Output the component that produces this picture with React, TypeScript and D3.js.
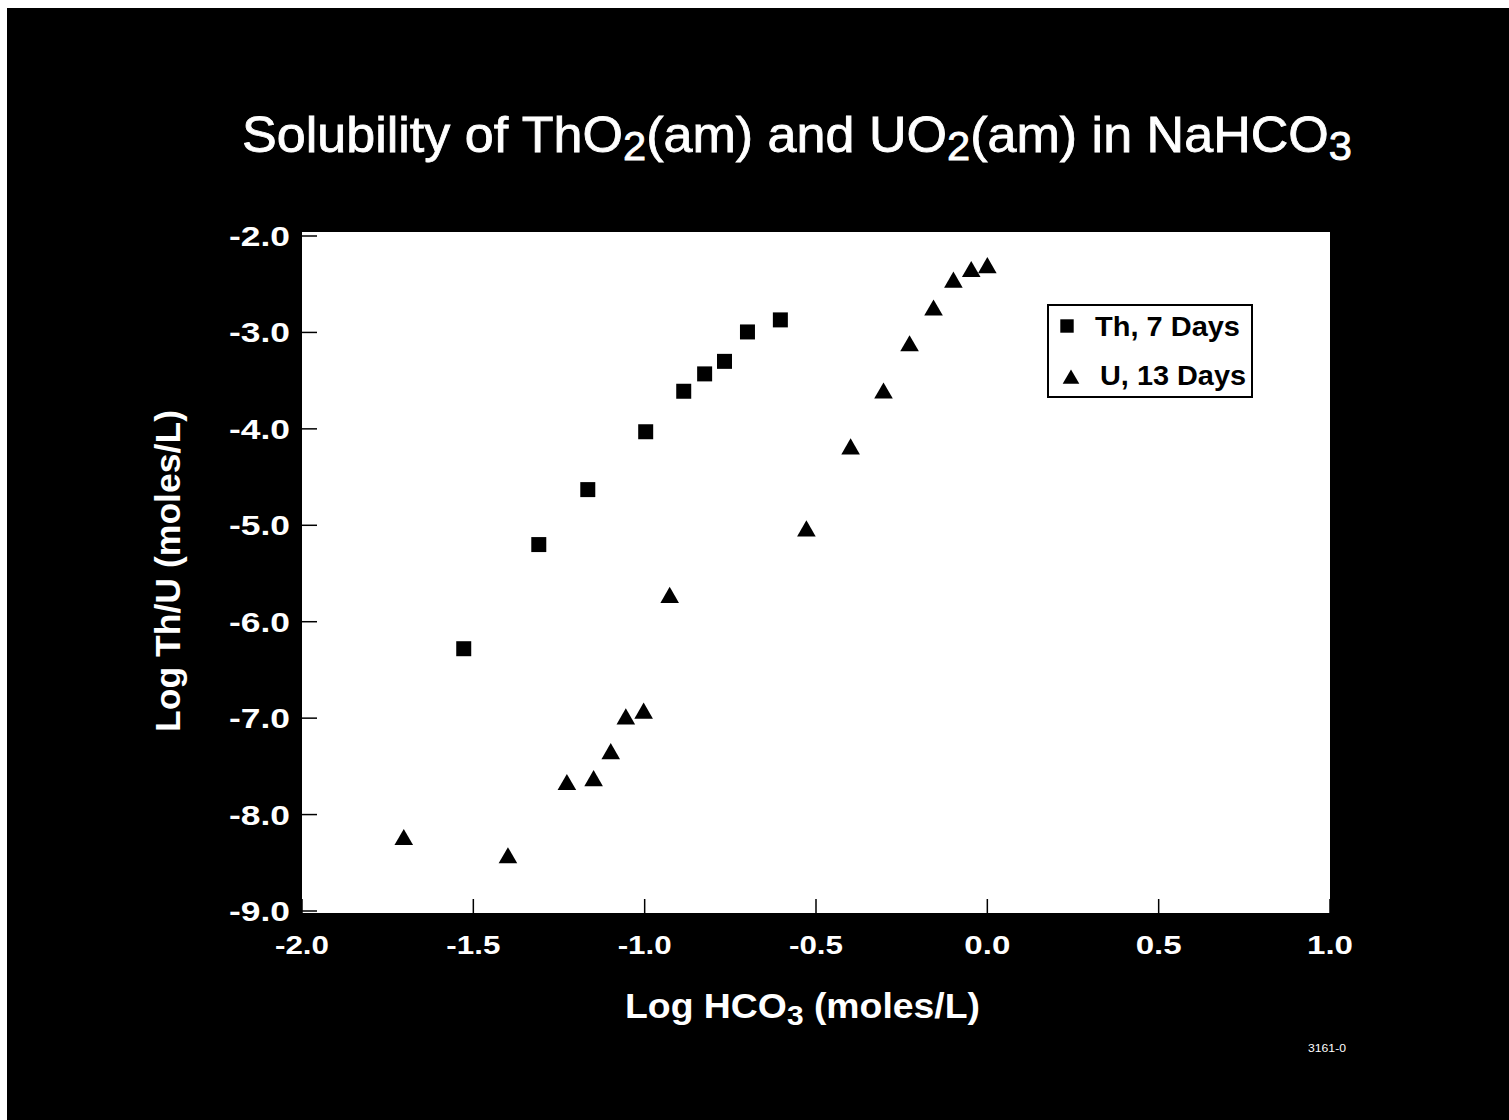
import React from "react";
import * as d3 from "d3";

const thX = [-1.528, -1.309, -1.166, -0.997, -0.886, -0.825, -0.767, -0.7, -0.604];
const thY = [-6.28, -5.2, -4.63, -4.03, -3.61, -3.43, -3.3, -2.995, -2.87];

const uX = [-1.703, -1.399, -1.227, -1.149, -1.099, -1.055, -1.003, -0.927, -0.528, -0.399, -0.303, -0.227, -0.157, -0.099, -0.047, 0.0];
const uY = [-8.26, -8.45, -7.69, -7.65, -7.37, -7.01, -6.95, -5.75, -5.06, -4.21, -3.63, -3.14, -2.77, -2.48, -2.37, -2.33];

const xTicks = [-2.0, -1.5, -1.0, -0.5, 0.0, 0.5, 1.0];
const yTicks = [-2.0, -3.0, -4.0, -5.0, -6.0, -7.0, -8.0, -9.0];

const legendLabels = ["Th, 7 Days", "U, 13 Days"];

export default function App() {
  const x = d3.scaleLinear().domain([-2, 1]).range([302, 1330]);
  const y = d3.scaleLinear().domain([-9, -2]).range([911, 236]);
  const sq = d3.symbol().type(d3.symbolSquare).size(225);
  const tri = d3.symbol().type(d3.symbolTriangle).size(150);
  const font = "'Liberation Sans', Arial, Helvetica, sans-serif";
  const plotTop = 232;
  const plotBottom = 913;
  return (
    <svg
      width={1509}
      height={1120}
      style={{ position: "fixed", left: 0, top: 0, display: "block" }}
      fontFamily={font}
    >
      <rect x={0} y={0} width={1509} height={1120} fill="#fff" />
      <rect x={7} y={8} width={1502} height={1112} fill="#000" />
      <text
        x={242}
        y={152}
        fill="#fff"
        fontSize={50}
        textLength={1110}
        lengthAdjust="spacingAndGlyphs"
        stroke="#fff"
        strokeWidth={0.8}
      >
        Solubility of ThO<tspan fontSize={40} dy={8}>2</tspan>
        <tspan dy={-8}>(am) and UO</tspan>
        <tspan fontSize={40} dy={8}>2</tspan>
        <tspan dy={-8}>(am) in NaHCO</tspan>
        <tspan fontSize={40} dy={8}>3</tspan>
      </text>
      <rect x={302} y={plotTop} width={1028} height={plotBottom - plotTop} fill="#fff" />
      {xTicks.map((t) => (
        <g key={"x" + t}>
          <line x1={x(t)} x2={x(t)} y1={plotBottom} y2={plotBottom - 14} stroke="#000" strokeWidth={1.5} />
          <text
            x={x(t)}
            y={954}
            fill="#fff"
            fontSize={26}
            fontWeight="bold"
            textAnchor="middle"
            textLength={t < 0 ? 54 : 46}
            lengthAdjust="spacingAndGlyphs"
          >
            {t.toFixed(1)}
          </text>
        </g>
      ))}
      {yTicks.map((t) => (
        <g key={"y" + t}>
          <line x1={302} x2={317} y1={y(t)} y2={y(t)} stroke="#000" strokeWidth={1.5} />
          <text
            x={290}
            y={y(t) + 10}
            fill="#fff"
            fontSize={27}
            fontWeight="bold"
            textAnchor="end"
            textLength={61}
            lengthAdjust="spacingAndGlyphs"
          >
            {t.toFixed(1)}
          </text>
        </g>
      ))}
      {thX.map((v, i) => (
        <path key={"t" + i} d={sq() as string} transform={`translate(${x(v)},${y(thY[i])})`} fill="#000" />
      ))}
      {uX.map((v, i) => (
        <path key={"u" + i} d={tri() as string} transform={`translate(${x(v)},${y(uY[i])})`} fill="#000" />
      ))}
      <g>
        <rect x={1048} y={305} width={204} height={92} fill="#fff" stroke="#000" strokeWidth={2} />
        <path d={d3.symbol().type(d3.symbolSquare).size(180)() as string} transform="translate(1067,326)" fill="#000" />
        <text x={1095} y={336} fontSize={27} fontWeight="bold" fill="#000" textLength={145} lengthAdjust="spacingAndGlyphs">
          {legendLabels[0]}
        </text>
        <path d={d3.symbol().type(d3.symbolTriangle).size(120)() as string} transform="translate(1071,379)" fill="#000" />
        <text x={1100} y={385} fontSize={27} fontWeight="bold" fill="#000" textLength={146} lengthAdjust="spacingAndGlyphs">
          {legendLabels[1]}
        </text>
      </g>
      <text
        transform="translate(180,571) rotate(-90)"
        fill="#fff"
        fontSize={35}
        fontWeight="bold"
        textAnchor="middle"
        textLength={322}
        lengthAdjust="spacingAndGlyphs"
      >
        Log Th/U (moles/L)
      </text>
      <text x={625} y={1018} fill="#fff" fontSize={35} fontWeight="bold" textLength={355} lengthAdjust="spacingAndGlyphs">
        Log HCO<tspan fontSize={28} dy={7}>3</tspan>
        <tspan dy={-7}> (moles/L)</tspan>
      </text>
      <text x={1346} y={1052} fill="#fff" fontSize={11} textAnchor="end" textLength={38} lengthAdjust="spacingAndGlyphs">
        3161-0
      </text>
    </svg>
  );
}
